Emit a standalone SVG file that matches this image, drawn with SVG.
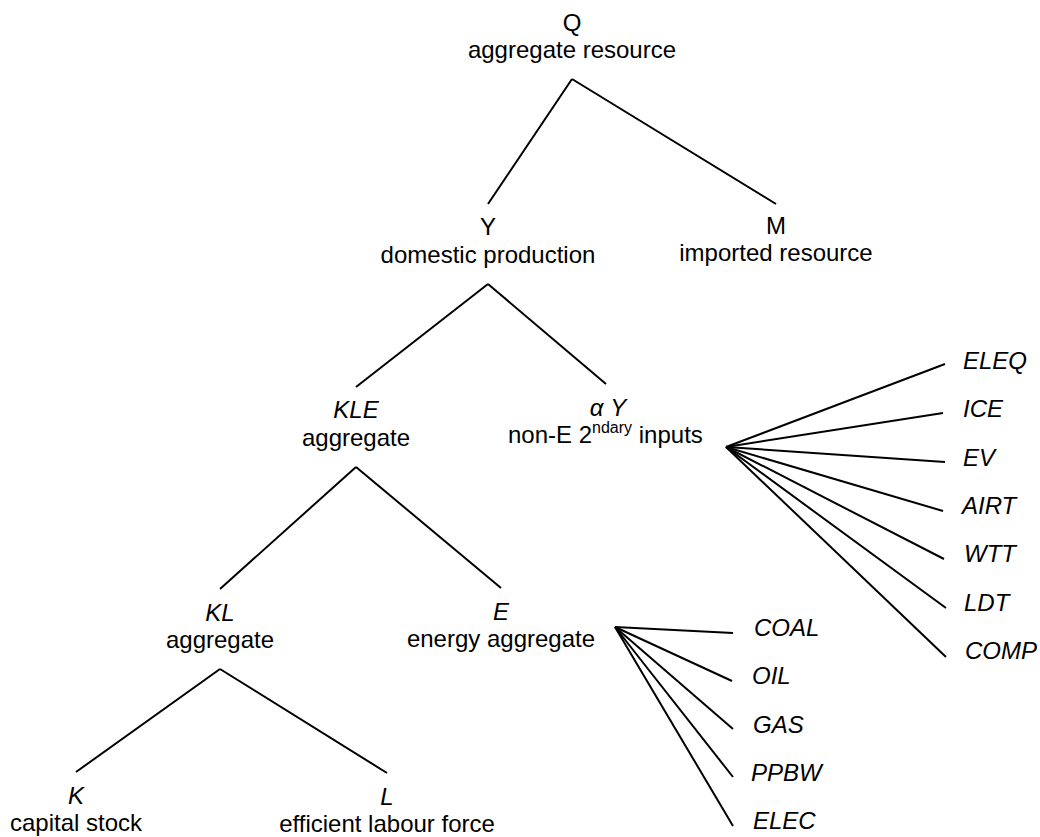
<svg xmlns="http://www.w3.org/2000/svg" width="1040" height="837" viewBox="0 0 1040 837">
<style>
text{font-family:"Liberation Sans",Arial,sans-serif;font-size:24px;fill:#000}
.c{text-anchor:middle}
.i{font-style:italic}
.sup{font-size:16px}
line{stroke:#000;stroke-width:2;stroke-linecap:butt}
</style>
<rect width="1040" height="837" fill="#fff"/>
<g id="connectors">
<line x1="572" y1="79" x2="488" y2="204"/>
<line x1="572" y1="79" x2="776" y2="204"/>
<line x1="488" y1="284" x2="356" y2="387"/>
<line x1="488" y1="284" x2="606" y2="384"/>
<line x1="356" y1="467" x2="220" y2="589"/>
<line x1="356" y1="467" x2="501" y2="588"/>
<line x1="220" y1="669" x2="76" y2="772"/>
<line x1="220" y1="669" x2="387" y2="773"/>
<line x1="726" y1="447" x2="945" y2="364"/>
<line x1="726" y1="447" x2="943" y2="413"/>
<line x1="726" y1="447" x2="945" y2="462"/>
<line x1="726" y1="447" x2="943" y2="511"/>
<line x1="726" y1="447" x2="944" y2="559"/>
<line x1="726" y1="447" x2="946" y2="608"/>
<line x1="726" y1="447" x2="946" y2="657"/>
<line x1="615" y1="627" x2="733" y2="633"/>
<line x1="615" y1="627" x2="732" y2="681"/>
<line x1="615" y1="627" x2="733" y2="729"/>
<line x1="615" y1="627" x2="733" y2="777"/>
<line x1="615" y1="627" x2="733" y2="826"/>
</g>
<g id="node-Q"><text class="c" x="572" y="31">Q</text><text class="c" x="572" y="58">aggregate resource</text></g>
<g id="node-Y"><text class="c" x="488" y="235">Y</text><text class="c" x="488" y="263">domestic production</text></g>
<g id="node-M"><text class="c" x="776" y="234">M</text><text class="c" x="776" y="261">imported resource</text></g>
<g id="node-KLE"><text class="c i" x="356" y="418">KLE</text><text class="c" x="356" y="446">aggregate</text></g>
<g id="node-aY"><text class="c i" x="608" y="416">α Y</text><text x="508" y="443">non-E 2<tspan class="sup" dy="-10">ndary</tspan><tspan dy="10"> inputs</tspan></text></g>
<g id="node-KL"><text class="c i" x="220" y="621">KL</text><text class="c" x="220" y="648">aggregate</text></g>
<g id="node-E"><text class="c i" x="501" y="620">E</text><text class="c" x="501" y="647">energy aggregate</text></g>
<g id="node-K"><text class="c i" x="76" y="804">K</text><text class="c" x="76" y="831">capital stock</text></g>
<g id="node-L"><text class="c i" x="387" y="805">L</text><text class="c" x="387" y="832">efficient labour force</text></g>
<g id="node-ELEQ"><text class="i" x="963" y="369">ELEQ</text></g>
<g id="node-ICE"><text class="i" x="963" y="417">ICE</text></g>
<g id="node-EV"><text class="i" x="963" y="466">EV</text></g>
<g id="node-AIRT"><text class="i" x="962" y="514">AIRT</text></g>
<g id="node-WTT"><text class="i" x="964" y="562">WTT</text></g>
<g id="node-LDT"><text class="i" x="964" y="611">LDT</text></g>
<g id="node-COMP"><text class="i" x="965" y="659">COMP</text></g>
<g id="node-COAL"><text class="i" x="754" y="636">COAL</text></g>
<g id="node-OIL"><text class="i" x="752" y="684">OIL</text></g>
<g id="node-GAS"><text class="i" x="753" y="733">GAS</text></g>
<g id="node-PPBW"><text class="i" x="751" y="781">PPBW</text></g>
<g id="node-ELEC"><text class="i" x="753" y="829">ELEC</text></g>
</svg>
